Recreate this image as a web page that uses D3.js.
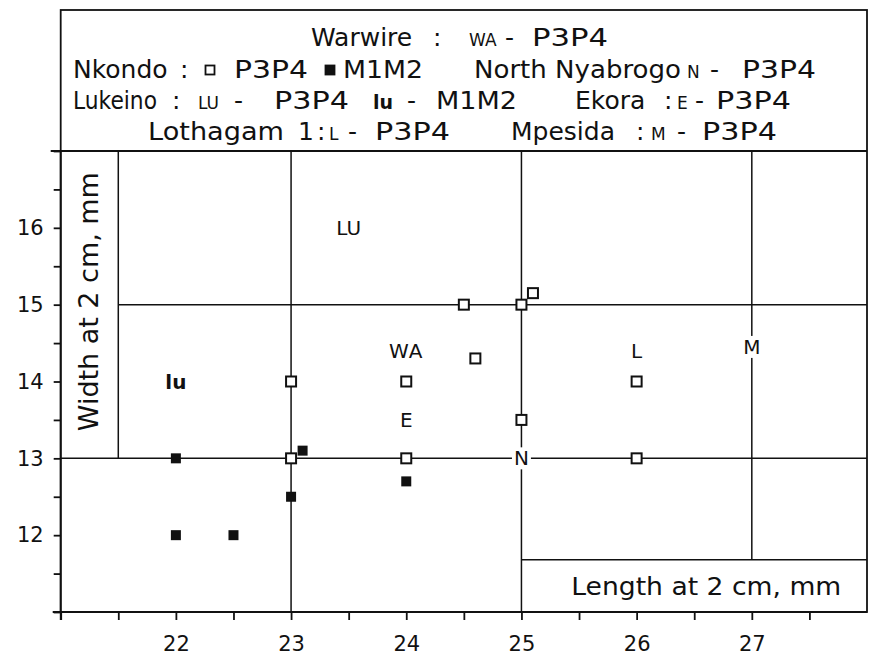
<!DOCTYPE html>
<html>
<head>
<meta charset="utf-8">
<script src="https://cdn.jsdelivr.net/npm/d3@7"></script>
<style>
  html, body { margin: 0; padding: 0; background: #fff; }
  svg { display: block; }
  text { font-family: "DejaVu Sans", sans-serif; fill: #111; }
</style>
</head>
<body>
<svg id="chart" width="872" height="659"></svg>
<script>
// ---------------- DATA ----------------
// Nkondo P3P4 (open squares): [length, width]
const nkondoP3P4 = [
  [23, 14], [23, 13], [24, 14], [24, 13], [24.5, 15], [25, 15],
  [25.1, 15.15], [24.6, 14.3], [25, 13.5], [26, 14], [26, 13]
];
// Nkondo M1M2 (filled squares)
const nkondoM1M2 = [
  [22, 13], [22, 12], [22.5, 12], [23, 12.5], [23.1, 13.1], [24, 12.7]
];
// Letter-coded sites
const siteCodes = ["LU", "lu", "WA", "E", "N", "L", "M"];
const siteLength = [23.5, 22, 24, 24, 25, 26, 27];
const siteWidth = [16, 14, 14.4, 13.5, 13, 14.4, 14.45];

const xTickValues = [21, 21.5, 22, 22.5, 23, 23.5, 24, 24.5, 25, 25.5, 26, 26.5, 27, 27.5];
const xTickLabels = [22, 23, 24, 25, 26, 27];
const yTickValues = [11, 11.5, 12, 12.5, 13, 13.5, 14, 14.5, 15, 15.5, 16, 16.5, 17];
const yTickLabels = [12, 13, 14, 15, 16];

// legend text lines (content): [text, kind]  n=normal, t=tooth code (P3P4/M1M2), s=small site code, b=bold code, sym=square symbol
const legendLines = [
  [["Warwire", "n"], [":", "n"], ["WA", "s"], ["-", "n"], ["P3P4", "t"]],
  [["Nkondo", "n"], [":", "n"], ["open", "sym"], ["P3P4", "t"], ["filled", "sym"], ["M1M2", "t"],
   ["North Nyabrogo", "n"], ["N", "s"], ["-", "n"], ["P3P4", "t"]],
  [["Lukeino", "n"], [":", "n"], ["LU", "s"], ["-", "n"], ["P3P4", "t"], ["lu", "b"], ["-", "n"], ["M1M2", "t"],
   ["Ekora", "n"], [":", "n"], ["E", "s"], ["-", "n"], ["P3P4", "t"]],
  [["Lothagam", "n"], ["1", "n"], [":", "n"], ["L", "s"], ["-", "n"], ["P3P4", "t"],
   ["Mpesida", "n"], [":", "n"], ["M", "s"], ["-", "n"], ["P3P4", "t"]]
];
// legend layout (x start positions, optional fitted widths)
const legendBaselines = [46, 78, 109, 140];
const legendXs = [
  [311, 433, 469, 505, 532],
  [73, 180, 210, 234, 330, 343, 474, 687, 710, 742],
  [73, 172, 198, 234, 274, 373, 407, 436, 575, 664, 677, 695, 716],
  [148, 298, 317, 329, 348, 375, 511, 636, 651, 677, 702]
];
const legendWidths = [
  [null, null, null, null, 76],
  [null, null, null, 74, null, 80, 207, null, null, 74],
  [84, null, null, null, 75, null, null, 81, null, null, null, null, 75],
  [136, null, null, null, null, 75, null, null, null, null, 75]
];

// ---------------- LAYOUT ----------------
const svg = d3.select("#chart");
const x = d3.scaleLinear().domain([21, 28]).range([60.7, 867]);
const y = d3.scaleLinear().domain([11, 17]).range([612, 151]);

const frameTop = 10;
const ink = "#111";

// outer frame (legend box + plot)
svg.append("rect")
  .attr("x", x(21)).attr("y", frameTop)
  .attr("width", x(28) - x(21)).attr("height", y(11) - frameTop)
  .attr("fill", "none").attr("stroke", ink).attr("stroke-width", 1.8);

// legend bottom line
svg.append("line")
  .attr("x1", x(21) - 10).attr("x2", x(28))
  .attr("y1", y(17)).attr("y2", y(17))
  .attr("stroke", ink).attr("stroke-width", 1.8);

// structural/reference lines
const gl = svg.append("g").attr("stroke", ink).attr("stroke-width", 1.5);
gl.append("line").attr("x1", x(21.5)).attr("x2", x(21.5)).attr("y1", y(17)).attr("y2", y(13));
gl.append("line").attr("x1", x(21)).attr("x2", x(28)).attr("y1", y(13)).attr("y2", y(13));
gl.append("line").attr("x1", x(21.5)).attr("x2", x(28)).attr("y1", y(15)).attr("y2", y(15));
[23, 25].forEach(v => gl.append("line").attr("x1", x(v)).attr("x2", x(v)).attr("y1", y(17)).attr("y2", y(11)));
const xBoxTop = 11.68;
gl.append("line").attr("x1", x(25)).attr("x2", x(28)).attr("y1", y(xBoxTop)).attr("y2", y(xBoxTop));
gl.append("line").attr("x1", x(27)).attr("x2", x(27)).attr("y1", y(17)).attr("y2", y(xBoxTop));

// ---------------- AXES ----------------
const xAxis = d3.axisBottom(x).tickValues(xTickValues).tickSize(8).tickPadding(12)
  .tickFormat(d => xTickLabels.includes(d) ? d : "");
const gx = svg.append("g").attr("transform", `translate(0,${y(11)})`).call(xAxis);
gx.select(".domain").attr("d", `M${x(21) - 8},0H${x(28)}`).attr("stroke", ink).attr("stroke-width", 1.8);
gx.selectAll(".tick line").attr("stroke", ink).attr("stroke-width", 1.8);
gx.selectAll(".tick text").attr("font-size", 21).attr("font-family", "DejaVu Sans").attr("fill", ink).attr("dy", "0.9em");

const yAxis = d3.axisLeft(y).tickValues(yTickValues).tickSize(7).tickPadding(10)
  .tickFormat(d => yTickLabels.includes(d) ? d : "");
const gy = svg.append("g").attr("transform", `translate(${x(21)},0)`).call(yAxis);
gy.select(".domain").attr("d", `M0,${y(17)}V${y(11) + 8}`).attr("stroke", ink).attr("stroke-width", 1.8);
gy.selectAll(".tick line").attr("stroke", ink).attr("stroke-width", 1.8);
gy.selectAll(".tick text").attr("font-size", 21).attr("font-family", "DejaVu Sans").attr("fill", ink);

// axis titles
svg.append("text")
  .attr("transform", `translate(${(x(21) + x(21.5)) / 2 + 9},${(y(17) + y(13)) / 2 - 3}) rotate(-90)`)
  .attr("text-anchor", "middle")
  .attr("font-size", 26)
  .attr("textLength", 259).attr("lengthAdjust", "spacingAndGlyphs")
  .text("Width at 2 cm, mm");

svg.append("text")
  .attr("x", (x(25) + x(28)) / 2 + 12)
  .attr("y", (y(xBoxTop) + y(11)) / 2 + 9)
  .attr("text-anchor", "middle")
  .attr("font-size", 24)
  .attr("textLength", 270).attr("lengthAdjust", "spacingAndGlyphs")
  .text("Length at 2 cm, mm");

// ---------------- MARKS ----------------
const sq = 10;
svg.append("g").selectAll("rect.open").data(nkondoP3P4).join("rect")
  .attr("class", "open")
  .attr("x", d => x(d[0]) - sq / 2).attr("y", d => y(d[1]) - sq / 2)
  .attr("width", sq).attr("height", sq)
  .attr("fill", "#fff").attr("stroke", ink).attr("stroke-width", 2);

svg.append("g").selectAll("rect.filled").data(nkondoM1M2).join("rect")
  .attr("class", "filled")
  .attr("x", d => x(d[0]) - sq / 2).attr("y", d => y(d[1]) - sq / 2)
  .attr("width", sq).attr("height", sq)
  .attr("fill", ink);

const siteData = siteCodes.map((c, i) => ({ code: c, lx: siteLength[i], wy: siteWidth[i] }));
const sg = svg.append("g");
siteData.forEach(d => {
  const t = sg.append("text")
    .attr("x", x(d.lx)).attr("y", y(d.wy))
    .attr("text-anchor", "middle").attr("dominant-baseline", "central")
    .attr("font-size", 20)
    .attr("font-weight", d.code === "lu" ? "bold" : "normal")
    .attr("letter-spacing", d.code === "WA" ? 1 : 0)
    .text(d.code);
  const bb = t.node().getBBox();
  sg.insert("rect", () => t.node())
    .attr("x", bb.x - 2).attr("y", bb.y + 1)
    .attr("width", bb.width + 4).attr("height", bb.height - 2)
    .attr("fill", "#fff");
});

// ---------------- LEGEND ----------------
const lg = svg.append("g");
legendLines.forEach((line, li) => {
  const by = legendBaselines[li];
  line.forEach((seg, si) => {
    const [txt, kind] = seg;
    const xx = legendXs[li][si];
    const w = legendWidths[li][si];
    if (kind === "sym") {
      const s = 9;
      lg.append("rect")
        .attr("x", xx - s / 2).attr("y", by - 8 - s / 2)
        .attr("width", s).attr("height", s)
        .attr("fill", txt === "filled" ? ink : "#fff")
        .attr("stroke", ink).attr("stroke-width", 1.8);
    } else {
      const t = lg.append("text")
        .attr("x", xx).attr("y", by)
        .attr("font-size", (kind === "n" || kind === "t") ? 25 : (kind === "b" ? 19 : 17))
        .attr("font-weight", kind === "b" ? "bold" : "normal")
        .text(txt);
      if (w) t.attr("textLength", w).attr("lengthAdjust", "spacingAndGlyphs");
    }
  });
});
</script>
</body>
</html>
